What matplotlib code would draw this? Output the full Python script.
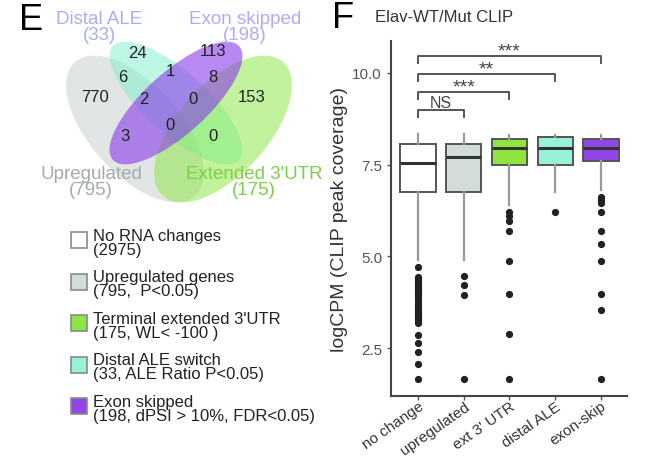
import matplotlib
matplotlib.use('Agg')
import matplotlib.pyplot as plt
from matplotlib.patches import Ellipse, Rectangle

plt.rcParams['font.family'] = ['Liberation Sans', 'DejaVu Sans']

# ---------------- Venn data ----------------
venn_names = ['Upregulated', 'Distal ALE', 'Exon skipped', "Extended 3'UTR"]
venn_totals = [795, 33, 198, 175]
venn_colors = ['#c4cccc', '#7ff0cc', '#8a3aea', '#86e83a']
venn_alpha = [0.5, 0.5, 0.6, 0.5]
venn_label_colors = ['#a3abab', '#a6b0f0', '#b6a8f2', '#7ccf4a']
# region counts
venn_counts = [24, 113, 6, 1, 8, 770, 2, 0, 153, 0, 3, 0]

# ---------------- Legend data ----------------
legend_labels = ['No RNA changes\n(2975)',
                 'Upregulated genes\n(795,  P<0.05)',
                 "Terminal extended 3'UTR\n(175, WL< -100 )",
                 'Distal ALE switch\n(33, ALE Ratio P<0.05)',
                 'Exon skipped\n(198, dPSI > 10%, FDR<0.05)']
legend_colors = ['#ffffff', '#d3dbdb', '#8ee53f', '#96f2d8', '#9146e8']

# ---------------- Box plot data ----------------
categories = ['no change', 'upregulated', "ext 3' UTR", 'distal ALE', 'exon-skip']
box_colors = ['#ffffff', '#d3dbdb', '#8ee53f', '#96f2d8', '#9146e8']
q1 = [6.77, 6.77, 7.48, 7.48, 7.60]
med = [7.55, 7.70, 7.96, 7.96, 7.96]
q3 = [8.07, 8.07, 8.19, 8.25, 8.19]
whislo = [4.90, 4.90, 6.40, 6.77, 6.80]
whishi = [8.34, 8.34, 8.32, 8.32, 8.32]
fliers = [
    [4.71, 4.45, 4.40, 4.35, 4.30, 4.25, 4.20, 4.15, 4.10, 4.05, 4.00, 3.95,
     3.90, 3.85, 3.80, 3.70, 3.65, 3.60, 3.55, 3.50, 3.45, 3.40, 3.35, 3.30,
     3.25, 3.20, 2.87, 2.64, 2.39, 2.07, 1.65],
    [4.46, 4.23, 3.95, 1.65],
    [6.22, 6.10, 5.97, 5.70, 4.87, 3.97, 2.88, 1.65],
    [6.20],
    [6.62, 6.55, 6.47, 6.20, 5.70, 5.35, 4.87, 3.97, 3.53, 1.65],
]
comparisons = [(0, 1, 'NS', 8.99), (0, 2, '***', 9.48), (0, 3, '**', 9.97), (0, 4, '***', 10.45)]
yticks = [2.5, 5.0, 7.5, 10.0]

W, H = 652, 460
fig = plt.figure(figsize=(W / 100, H / 100), dpi=100)

# overlay axes in pixel coordinates
ov = fig.add_axes([0, 0, 1, 1])
ov.set_xlim(0, W)
ov.set_ylim(H, 0)
ov.axis('off')

# ellipses: (cx, cy, width, height, angle) in pixels (y down)
ell_geom = [(135, 130, 180, 90, 48),
            (176, 104, 170, 62, 42),
            (176, 104, 170, 62, -42),
            (223, 130, 180, 90, -48)]
draw_order = [0, 1, 3, 2]
for i in draw_order:
    cx, cy, w, h, a = ell_geom[i]
    ov.add_patch(Ellipse((cx, cy), w, h, angle=a, facecolor=venn_colors[i],
                         edgecolor='none', alpha=venn_alpha[i]))

count_pos = [(137, 53), (213, 52), (123, 77), (170, 72), (213, 77), (95, 98),
             (144, 99), (193, 99), (252, 98), (170, 125), (125, 137), (213, 137)]
for (x, y), c in zip(count_pos, venn_counts):
    ov.text(x, y, str(c), ha='center', va='center', fontsize=12, color='#222222')

name_pos = [(91, 175), (99, 19), (245, 19), (254, 175)]
for (x, y), n, t, col in zip(name_pos, venn_names, venn_totals, venn_label_colors):
    ov.text(x, y, n, ha='center', va='center', fontsize=13.5, color=col)
    ov.text(x, y + 16, '(%d)' % t, ha='center', va='center', fontsize=13.5, color=col)

ov.text(19, 30, 'E', ha='left', va='baseline', fontsize=26, color='black')
ov.text(332, 28, 'F', ha='left', va='baseline', fontsize=26, color='black')

# legend
for k, (lab, col) in enumerate(zip(legend_labels, legend_colors)):
    y0 = 233 + k * 41.5
    ov.add_patch(Rectangle((71, y0), 16, 16, facecolor=col, edgecolor='#8a8a8a', lw=1.2))
    ov.text(93, y0 - 4, lab, ha='left', va='top', fontsize=12, color='#222222',
            linespacing=0.9)

# ---------------- Box plot ----------------
ax = fig.add_axes([391 / W, 1 - 397 / H, (627 - 391) / W, (397 - 42) / H])
stats = []
for i in range(len(categories)):
    stats.append(dict(med=med[i], q1=q1[i], q3=q3[i], whislo=whislo[i],
                      whishi=whishi[i], fliers=fliers[i], label=categories[i]))
pos = list(range(1, len(categories) + 1))
bp = ax.bxp(stats, positions=pos, widths=0.77, patch_artist=True, showcaps=False,
            boxprops=dict(edgecolor='#555555', linewidth=1.4),
            medianprops=dict(color='#333333', linewidth=2.2),
            whiskerprops=dict(color='#9a9a9a', linewidth=1.6),
            flierprops=dict(marker='o', markerfacecolor='#222222', markeredgecolor='#222222',
                            markersize=4.2, linestyle='none'))
for patch, col in zip(bp['boxes'], box_colors):
    patch.set_facecolor(col)

for a_, b_, lab, yb in comparisons:
    x1, x2 = pos[a_], pos[b_]
    ax.plot([x1, x1, x2, x2], [yb - 0.18, yb, yb, yb - 0.18], color='#555555', lw=1.4,
            clip_on=False)
    if lab == 'NS':
        ax.text((x1 + x2) / 2, yb + 0.08, lab, ha='center', va='baseline',
                fontsize=11.5, color='#444444')
    else:
        ax.text((x1 + x2) / 2, yb + 0.02, lab, ha='center', va='baseline',
                fontsize=14, color='#444444')

ax.set_xlim(0.41, 5.57)
ax.set_ylim(1.2, 10.87)
ax.set_yticks(yticks)
ax.set_yticklabels(['%.1f' % v for v in yticks])
ax.set_xticks(pos)
ax.set_xticklabels(categories, rotation=35, ha='right', va='top', rotation_mode='anchor')
ax.tick_params(axis='y', labelsize=11, colors='#555555', length=3, width=1)
ax.tick_params(axis='x', labelsize=11, colors='#555555', labelcolor='#333333',
               length=3, width=1, pad=-1)
for s in ['top', 'right']:
    ax.spines[s].set_visible(False)
for s in ['left', 'bottom']:
    ax.spines[s].set_color('#444444')
    ax.spines[s].set_linewidth(1.5)
ax.set_ylabel('logCPM (CLIP peak coverage)', fontsize=14, color='#333333', labelpad=3)
ax.patch.set_alpha(0)

ov.text(375, 18, 'Elav-WT/Mut CLIP', ha='left', va='center', fontsize=12, color='#333333')

fig.savefig('out.png', dpi=100)
